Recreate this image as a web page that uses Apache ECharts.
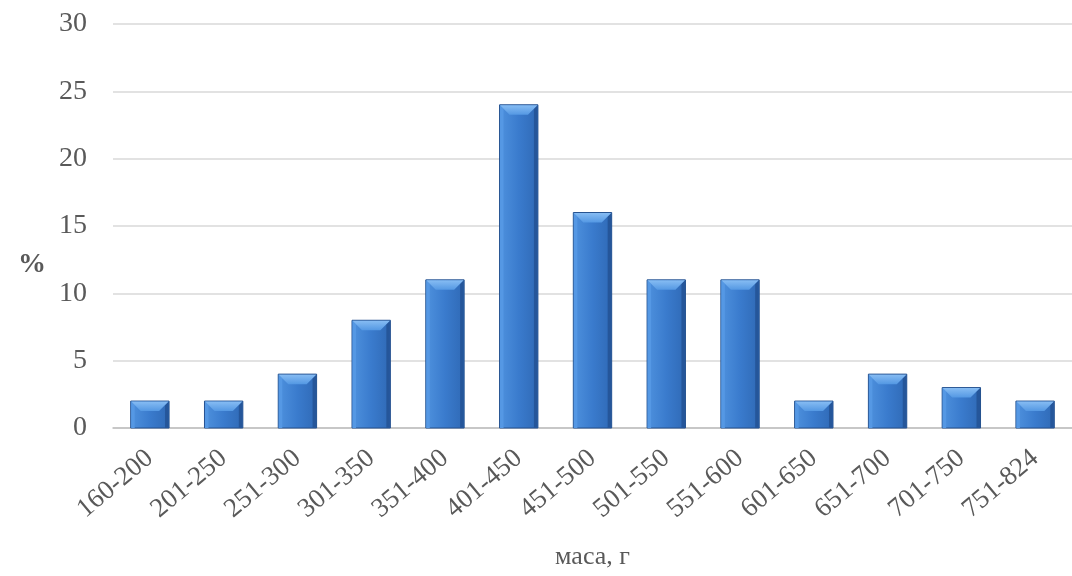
<!DOCTYPE html>
<html>
<head>
<meta charset="utf-8">
<script src="https://cdn.jsdelivr.net/npm/echarts@6/dist/echarts.min.js"></script>
<style>
  html, body { margin: 0; padding: 0; background: #fff; }
  #chart { width: 1072px; height: 576px; }
</style>
</head>
<body>
<div id="chart"></div>
<script>
// mass classes, g
const categories = ['160-200', '201-250', '251-300', '301-350', '351-400', '401-450', '451-500',
  '501-550', '551-600', '601-650', '651-700', '701-750', '751-824'];
// share of fish in each class, %
const shares = [2, 2, 4, 8, 11, 24, 16, 11, 11, 2, 4, 3, 2];
const yTicks = { min: 0, max: 30, step: 5 };

const serif = '"Liberation Serif", "DejaVu Serif", serif';
const textGrey = '#595959';

// bevelled bar, like the office "soft edge" preset
const renderBar = (params, api) => {
  const top = api.coord([api.value(0), api.value(1)]);
  const base = api.coord([api.value(0), 0]);
  const w = api.size([1, 0])[0] * 0.52;
  const x0 = top[0] - w / 2;
  const x1 = top[0] + w / 2;
  const y0 = top[1];
  const y1 = base[1];
  const b = Math.min(10, (y1 - y0) / 2);
  const s = 4;
  return {
    type: 'group',
    children: [
      {
        type: 'rect',
        shape: { x: x0, y: y0, width: w, height: y1 - y0 },
        style: {
          fill: new echarts.graphic.LinearGradient(0, 0, 1, 0, [
            { offset: 0, color: '#4f92de' },
            { offset: 0.5, color: '#3a7bcd' },
            { offset: 1, color: '#2f69b5' }
          ]),
          stroke: '#24518f',
          lineWidth: 1
        }
      },
      {
        type: 'polygon',
        shape: { points: [[x1 - 0.5, y0 + 0.5], [x1 - 0.5, y1], [x1 - s, y1], [x1 - s, y0 + s]] },
        style: { fill: '#25569a' }
      },
      {
        type: 'polygon',
        shape: { points: [[x0 + 0.5, y0 + 0.5], [x0 + s, y0 + s], [x0 + s, y1], [x0 + 0.5, y1]] },
        style: { fill: '#5598e4' }
      },
      {
        type: 'polygon',
        shape: { points: [[x0 + 0.5, y0 + 0.5], [x1 - 0.5, y0 + 0.5], [x1 - b, y0 + b], [x0 + b, y0 + b]] },
        style: {
          fill: new echarts.graphic.LinearGradient(0, 0, 0, 1, [
            { offset: 0, color: '#86bcf3' },
            { offset: 1, color: '#5498e3' }
          ])
        }
      }
    ]
  };
};

const chart = echarts.init(document.getElementById('chart'), null, { renderer: 'canvas' });

chart.setOption({
  animation: false,
  title: {
    text: '%',
    left: 13,
    top: 246,
    textStyle: { fontFamily: serif, fontSize: 28, fontWeight: 'bold', color: textGrey }
  },
  grid: { left: 113, right: 0, top: 24, bottom: 148, outerBoundsMode: 'none' },
  xAxis: {
    type: 'category',
    data: categories,
    name: 'маса, г',
    nameLocation: 'middle',
    nameGap: 116,
    nameTextStyle: { fontFamily: serif, fontSize: 26, color: textGrey },
    axisLine: { lineStyle: { color: '#bfbfbf', width: 1.5 } },
    axisTick: { show: false },
    axisLabel: {
      rotate: 40,
      margin: 27,
      fontFamily: serif,
      fontSize: 27,
      color: textGrey
    }
  },
  yAxis: {
    type: 'value',
    min: yTicks.min,
    max: yTicks.max,
    interval: yTicks.step,
    axisLine: { show: false },
    axisTick: { show: false },
    axisLabel: { margin: 26, fontFamily: serif, fontSize: 28, color: textGrey },
    splitLine: { lineStyle: { color: '#d9d9d9', width: 1.5 } }
  },
  series: [{
    type: 'custom',
    renderItem: renderBar,
    encode: { x: 0, y: 1 },
    data: shares.map((v, i) => [i, v])
  }]
});
</script>
</body>
</html>
